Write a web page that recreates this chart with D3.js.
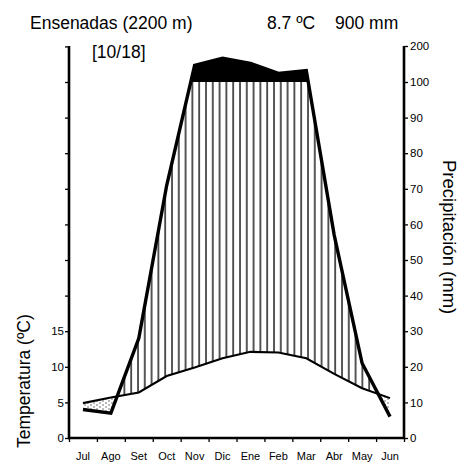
<!DOCTYPE html>
<html>
<head>
<meta charset="utf-8">
<script src="https://cdn.jsdelivr.net/npm/d3@7"></script>
<style>
  body { margin: 0; background: #fff; }
  svg { font-family: Arial, 'Liberation Sans', sans-serif; }
</style>
</head>
<body>
<div id="chart"></div>
<script>
const months = ['Jul', 'Ago', 'Set', 'Oct', 'Nov', 'Dic', 'Ene', 'Feb', 'Mar', 'Abr', 'May', 'Jun']
const temperature = [4.9, 5.7, 6.4, 8.7, 9.9, 11.2, 12.1, 12.0, 11.2, 9.0, 7.0, 5.6]
const precipitation = [8, 7, 28, 71, 146, 166, 152, 124, 132, 57, 21, 6]
const precipTicks = [0, 10, 20, 30, 40, 50, 60, 70, 80, 90, 100, 200]
const tempTicks = [0, 5, 10, 15, 20, 25, 30, 35, 40, 45, 50, 55]
const tempLabels = [0, 5, 10, 15]

const width = 461
const height = 462
const margin = { top: 46, right: 57, bottom: 24, left: 69 }
const x0 = margin.left
const x1 = width - margin.right
const yBottom = height - margin.bottom
const yTop = margin.top

const x = d3.scaleBand().domain(months).range([x0, x1])
const xTicks = d3.scaleLinear().domain([0, 12]).range([x0, x1])
const yP = d3.scaleLinear().domain([0, 100, 200]).range([yBottom, 82, yTop])
const yT = d3.scaleLinear().domain([0, 50]).range([yBottom, 82])

const cx = i => x(months[i]) + x.bandwidth() / 2
const data = months.map((m, i) => ({ m, t: temperature[i], p: precipitation[i], i }))

const svg = d3.select('#chart').append('svg')
  .attr('width', width)
  .attr('height', height)

const defs = svg.append('defs')

const hatch = defs.append('pattern')
  .attr('id', 'hatch')
  .attr('patternUnits', 'userSpaceOnUse')
  .attr('width', 6.8)
  .attr('height', 10)
hatch.append('rect').attr('width', 6.8).attr('height', 10).attr('fill', '#fff')
hatch.append('line')
  .attr('x1', 2).attr('x2', 2).attr('y1', 0).attr('y2', 10)
  .attr('stroke', '#3a3a3a').attr('stroke-width', 1.7)

const dots = defs.append('pattern')
  .attr('id', 'dots')
  .attr('patternUnits', 'userSpaceOnUse')
  .attr('width', 6)
  .attr('height', 4)
dots.append('rect').attr('width', 6).attr('height', 4).attr('fill', '#fff')
dots.append('circle').attr('cx', 1).attr('cy', 1).attr('r', 0.7).attr('fill', '#444')
dots.append('circle').attr('cx', 4).attr('cy', 3).attr('r', 0.7).attr('fill', '#444')

const aboveTemp = d3.area().x(d => cx(d.i)).y0(0).y1(d => yT(d.t))
const abovePrecip = d3.area().x(d => cx(d.i)).y0(0).y1(d => yP(d.p))
const underPrecip = d3.area().x(d => cx(d.i)).y0(yBottom).y1(d => yP(d.p))
const underTemp = d3.area().x(d => cx(d.i)).y0(yBottom).y1(d => yT(d.t))

defs.append('clipPath').attr('id', 'clip-above-temp')
  .append('path').attr('d', aboveTemp(data))
defs.append('clipPath').attr('id', 'clip-above-precip')
  .append('path').attr('d', abovePrecip(data))
defs.append('clipPath').attr('id', 'clip-over-100')
  .append('rect').attr('x', 0).attr('y', 0).attr('width', width).attr('height', yP(100))

// humid period
svg.append('path')
  .attr('d', underPrecip(data))
  .attr('fill', 'url(#hatch)')
  .attr('clip-path', 'url(#clip-above-temp)')

// dry period
svg.append('path')
  .attr('d', underTemp(data))
  .attr('fill', 'url(#dots)')
  .attr('clip-path', 'url(#clip-above-precip)')

// very humid (> 100 mm)
svg.append('path')
  .attr('d', underPrecip(data))
  .attr('fill', '#000')
  .attr('clip-path', 'url(#clip-over-100)')

const line = d3.line().x(d => cx(d.i))

svg.append('path')
  .attr('d', line.y(d => yT(d.t))(data))
  .attr('fill', 'none')
  .attr('stroke', '#000')
  .attr('stroke-width', 2.1)

svg.append('path')
  .attr('d', line.y(d => yP(d.p))(data))
  .attr('fill', 'none')
  .attr('stroke', '#000')
  .attr('stroke-width', 3.4)

// axes
const axisLeft = d3.axisLeft(yT)
  .tickValues(tempTicks)
  .tickSize(4)
  .tickFormat(d => (tempLabels.includes(d) ? d : ''))
const axisRight = d3.axisRight(yP)
  .tickValues(precipTicks)
  .tickSize(4)
const axisBottom = d3.axisBottom(xTicks)
  .tickValues(d3.range(0, 13))
  .tickSize(4)
  .tickFormat('')

function style(g) {
  g.select('.domain').remove()
  g.selectAll('.tick line').attr('stroke', '#000').attr('stroke-width', 1.3)
  g.selectAll('.tick text').attr('fill', '#000').attr('font-size', 11.5)
}

svg.append('g').attr('transform', `translate(${x0},0)`).call(axisLeft).call(style)
  .selectAll('.tick text').attr('x', -5)
svg.append('g').attr('transform', `translate(${x1},0)`).call(axisRight).call(style)
  .selectAll('.tick text').attr('x', 6)
svg.append('g').attr('transform', `translate(0,${yBottom})`).call(axisBottom).call(style)

svg.append('path')
  .attr('d', `M${x0},${yTop}V${yBottom}H${x1}V${yTop}`)
  .attr('fill', 'none')
  .attr('stroke', '#000')
  .attr('stroke-width', 2.6)

svg.append('g')
  .selectAll('text')
  .data(months)
  .enter()
  .append('text')
  .attr('x', d => x(d) + x.bandwidth() / 2)
  .attr('y', 459.5)
  .attr('text-anchor', 'middle')
  .attr('font-size', 11)
  .text(d => d)

// titles
svg.append('text').attr('x', 30).attr('y', 29).attr('font-size', 17.5)
  .text('Ensenadas (2200 m)')
svg.append('text').attr('x', 267).attr('y', 29).attr('font-size', 17.5)
  .text('8.7 ºC')
svg.append('text').attr('x', 335).attr('y', 29).attr('font-size', 17.5)
  .text('900 mm')
svg.append('text').attr('x', 92).attr('y', 58).attr('font-size', 17.5)
  .text('[10/18]')

svg.append('text')
  .attr('transform', 'translate(30,448) rotate(-90)')
  .attr('font-size', 17.5)
  .text('Temperatura (ºC)')
svg.append('text')
  .attr('transform', 'translate(443,160) rotate(90)')
  .attr('font-size', 18.5)
  .text('Precipitación (mm)')
</script>
</body>
</html>
